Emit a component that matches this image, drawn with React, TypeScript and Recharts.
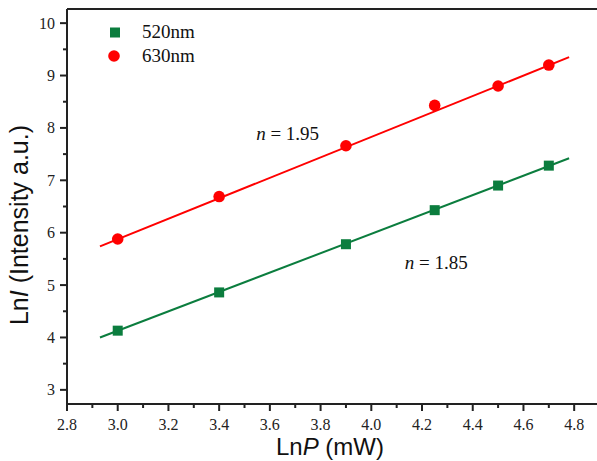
import { ComposedChart, ReferenceDot, ReferenceLine, Scatter, XAxis, YAxis } from "recharts";

// measured points (LnP vs LnI)
const LN_P = [3.0, 3.4, 3.9, 4.25, 4.5, 4.7];
const LN_I_520 = [4.13, 4.86, 5.78, 6.43, 6.9, 7.28];
const LN_I_630 = [5.88, 6.69, 7.66, 8.43, 8.8, 9.2];

// linear fits (end points)
const FIT_P = [2.93, 4.78];
const FIT_520 = [4.0, 7.42];
const FIT_630 = [5.74, 9.35];

const SERIES = ["520nm", "630nm"];
const SLOPES = ["1.85", "1.95"];

const X_MAJOR = [2.8, 3.0, 3.2, 3.4, 3.6, 3.8, 4.0, 4.2, 4.4, 4.6, 4.8];
const X_MINOR = [2.9, 3.1, 3.3, 3.5, 3.7, 3.9, 4.1, 4.3, 4.5, 4.7];
const Y_MAJOR = [3, 4, 5, 6, 7, 8, 9, 10];
const Y_MINOR = [3.5, 4.5, 5.5, 6.5, 7.5, 8.5, 9.5];

const X_DOMAIN: [number, number] = [2.8, 4.89];
const Y_DOMAIN: [number, number] = [2.73, 10.27];

const GREEN = "#0b7d3e";
const RED = "#ff0000";
const AXIS = "#222";
const SERIF = "'Liberation Serif', 'Times New Roman', serif";
const SANS = "'Liberation Sans', Arial, sans-serif";

const toRows = (xs: number[], ys: number[]) => xs.map((x, i) => ({ x, y: ys[i] }));

const data520 = toRows(LN_P, LN_I_520);
const data630 = toRows(LN_P, LN_I_630);
const fit520 = toRows(FIT_P, FIT_520);
const fit630 = toRows(FIT_P, FIT_630);

const xTicks = [...X_MAJOR, ...X_MINOR].sort((a, b) => a - b);
const yTicks = [...Y_MAJOR, ...Y_MINOR].sort((a, b) => a - b);

const serifText = { fontFamily: SERIF, fontSize: 16, fill: "#222" };

function XTick(props: any) {
  const { x, y, payload } = props;
  const major = X_MAJOR.includes(payload.value);
  return (
    <g>
      <line x1={x} x2={x} y1={y} y2={y + (major ? 7 : 4)} stroke={AXIS} strokeWidth={2} />
      {major && (
        <text x={x} y={y + 26} textAnchor="middle" style={serifText}>
          {payload.value.toFixed(1)}
        </text>
      )}
    </g>
  );
}

function YTick(props: any) {
  const { x, y, payload } = props;
  const major = Y_MAJOR.includes(payload.value);
  return (
    <g>
      <line x1={x} x2={x - (major ? 7 : 4)} y1={y} y2={y} stroke={AXIS} strokeWidth={2} />
      {major && (
        <text x={x - 12} y={y + 5.5} textAnchor="end" style={serifText}>
          {payload.value}
        </text>
      )}
    </g>
  );
}

const square = (p: any) => <rect x={p.cx - 5} y={p.cy - 5} width={10} height={10} fill={GREEN} />;
const circle = (p: any) => <circle cx={p.cx} cy={p.cy} r={5.8} fill={RED} />;
const noDot = () => <g />;

function slopeLabel(text: string) {
  return (p: any) => (
    <text
      x={p.viewBox.x}
      y={p.viewBox.y}
      textAnchor="middle"
      style={{ fontFamily: SERIF, fontSize: 19, fill: "#111" }}
    >
      <tspan fontStyle="italic">n</tspan> = {text}
    </text>
  );
}

export default function App() {
  return (
    <div style={{ position: "absolute", left: 0, top: 0, width: 597, height: 461, background: "#fff" }}>
      <ComposedChart width={597} height={461} margin={{ top: 9, right: 0, bottom: 0, left: 0 }}>
        <XAxis
          type="number"
          dataKey="x"
          domain={X_DOMAIN}
          ticks={xTicks}
          interval={0}
          allowDataOverflow
          height={57}
          tickSize={0}
          tickMargin={0}
          tickLine={false}
          tick={<XTick />}
          axisLine={{ stroke: AXIS, strokeWidth: 2 }}
          label={{
            content: (p: any) => (
              <text
                x={p.viewBox.x + p.viewBox.width / 2 - 2}
                y={455}
                textAnchor="middle"
                style={{ fontFamily: SANS, fontSize: 24, fill: "#111" }}
              >
                Ln<tspan fontStyle="italic">P</tspan> (mW)
              </text>
            ),
          }}
        />
        <YAxis
          type="number"
          dataKey="y"
          domain={Y_DOMAIN}
          ticks={yTicks}
          interval={0}
          allowDataOverflow
          width={67}
          tickSize={0}
          tickMargin={0}
          tickLine={false}
          tick={<YTick />}
          axisLine={{ stroke: AXIS, strokeWidth: 2 }}
          label={{
            content: () => (
              <text
                x={28}
                y={225}
                transform="rotate(-90 28 225)"
                textAnchor="middle"
                style={{ fontFamily: SANS, fontSize: 25, fill: "#111" }}
              >
                Ln<tspan fontStyle="italic">I</tspan> (Intensity a.u.)
              </text>
            ),
          }}
        />
        <ReferenceLine y={Y_DOMAIN[1]} stroke={AXIS} strokeWidth={2} ifOverflow="visible" />
        <Scatter data={fit630} line={{ stroke: RED, strokeWidth: 2 }} shape={noDot} isAnimationActive={false} />
        <Scatter data={fit520} line={{ stroke: GREEN, strokeWidth: 2 }} shape={noDot} isAnimationActive={false} />
        <Scatter name={SERIES[1]} data={data630} shape={circle} isAnimationActive={false} />
        <Scatter name={SERIES[0]} data={data520} shape={square} isAnimationActive={false} />
        <ReferenceDot x={3.67} y={7.77} r={0} stroke="none" label={{ content: slopeLabel(SLOPES[1]) }} />
        <ReferenceDot x={4.256} y={5.3} r={0} stroke="none" label={{ content: slopeLabel(SLOPES[0]) }} />
      </ComposedChart>
      <div
        style={{
          position: "absolute",
          left: 108,
          top: 20,
          fontFamily: SERIF,
          fontSize: 19,
          color: "#111",
          lineHeight: "24px",
        }}
      >
        {SERIES.map((name, i) => (
          <div key={name} style={{ display: "flex", alignItems: "center" }}>
            <svg width={24} height={24}>
              {i === 0 ? (
                <rect x={2} y={7.5} width={10} height={10} fill={GREEN} />
              ) : (
                <circle cx={6} cy={12} r={5.8} fill={RED} />
              )}
            </svg>
            <span style={{ marginLeft: 10 }}>{name}</span>
          </div>
        ))}
      </div>
    </div>
  );
}
